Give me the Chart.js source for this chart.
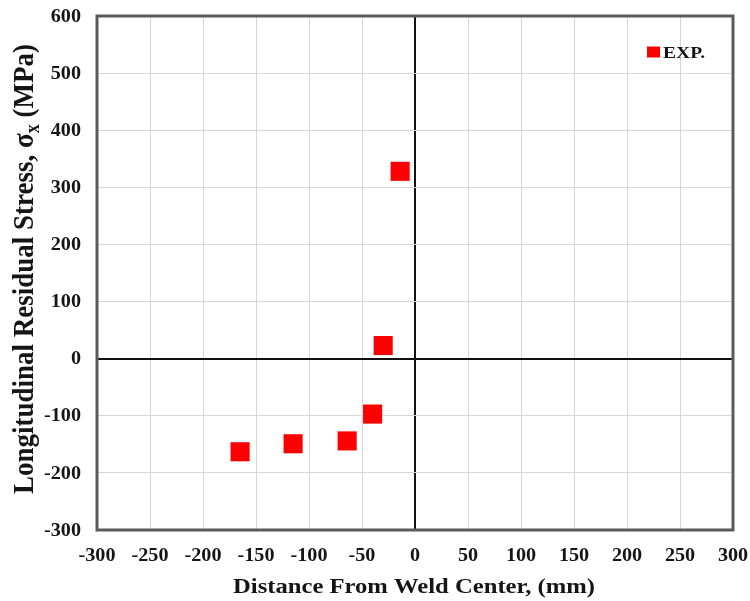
<!DOCTYPE html>
<html>
<head>
<meta charset="utf-8">
<script src="https://cdn.jsdelivr.net/npm/chart.js@4.4.1/dist/chart.umd.min.js"></script>
<style>
  html, body { margin: 0; padding: 0; background: #ffffff; }
  #wrap { width: 750px; height: 601px; }
</style>
</head>
<body>
<div id="wrap"><canvas id="chart" width="750" height="601"></canvas></div>
<script>
// Measured longitudinal residual stress across the weld
const distanceMm = [-165, -115, -64, -40, -30, -14];
const stressMPa = [-163, -149, -144, -97, 23, 328];
const seriesLabel = 'EXP.';

const xTicks = [-300, -250, -200, -150, -100, -50, 0, 50, 100, 150, 200, 250, 300];
const yTicks = [-300, -200, -100, 0, 100, 200, 300, 400, 500, 600];
const xTitle = 'Distance From Weld Center, (mm)';
const yTitleParts = ['Longitudinal Residual Stress, \u03C3', 'x', ' (MPa)'];

const SERIF = '"Liberation Serif", "Times New Roman", serif';
const font = (size) => `bold ${size}px ${SERIF}`;
const TEXT = '#151515';

// text with a slight horizontal widening
function wideText(ctx, text, x, y, align, baseline, size, sx) {
  ctx.save();
  ctx.translate(x, y);
  ctx.scale(sx, 1);
  ctx.font = font(size);
  ctx.fillStyle = TEXT;
  ctx.textAlign = align;
  ctx.textBaseline = baseline;
  ctx.fillText(text, 0, 0);
  ctx.restore();
}

const decorations = {
  id: 'decorations',
  afterDraw(chart) {
    const { ctx, chartArea: a, scales } = chart;
    const xs = scales.x, ys = scales.y;

    // plot frame
    ctx.save();
    ctx.strokeStyle = '#5a5a5a';
    ctx.lineWidth = 3;
    ctx.strokeRect(a.left, a.top, a.right - a.left, a.bottom - a.top);
    ctx.restore();

    // tick labels
    xTicks.forEach(v => wideText(ctx, String(v), xs.getPixelForValue(v), 561, 'center', 'alphabetic', 18, 1.12));
    yTicks.forEach(v => wideText(ctx, String(v), 81, ys.getPixelForValue(v) + 1, 'right', 'middle', 18, 1.12));

    // x axis title
    wideText(ctx, xTitle, (a.left + a.right) / 2 - 1, 593, 'center', 'alphabetic', 22, 1.12);

    // y axis title with subscript
    ctx.save();
    ctx.translate(33, 269);
    ctx.scale(1.12, 1);
    ctx.rotate(-Math.PI / 2);
    ctx.fillStyle = TEXT;
    ctx.textBaseline = 'alphabetic';
    const big = 27, small = 18;
    ctx.font = font(big);
    const w0 = ctx.measureText(yTitleParts[0]).width;
    const w2 = ctx.measureText(yTitleParts[2]).width;
    ctx.font = font(small);
    const w1 = ctx.measureText(yTitleParts[1]).width;
    let x = -(w0 + w1 + w2) / 2;
    ctx.textAlign = 'left';
    ctx.font = font(big);
    ctx.fillText(yTitleParts[0], x, 0);
    x += w0;
    ctx.font = font(small);
    ctx.fillText(yTitleParts[1], x, 5);
    x += w1;
    ctx.font = font(big);
    ctx.fillText(yTitleParts[2], x, 0);
    ctx.restore();

    // legend
    const ds = chart.data.datasets[0];
    ctx.save();
    ctx.fillStyle = ds.backgroundColor;
    ctx.fillRect(a.right - 86, 46.5, 13, 11);
    ctx.restore();
    wideText(ctx, ds.label, a.right - 70, 58, 'left', 'alphabetic', 17, 1.15);
  }
};

new Chart(document.getElementById('chart'), {
  type: 'scatter',
  data: {
    datasets: [{
      label: seriesLabel,
      data: distanceMm.map((d, i) => ({ x: d, y: stressMPa[i] })),
      pointStyle: 'rect',
      pointRadius: 13.5,
      pointHoverRadius: 13.5,
      borderWidth: 0,
      backgroundColor: '#ff0000',
      borderColor: '#ff0000'
    }]
  },
  options: {
    responsive: false,
    animation: false,
    devicePixelRatio: 1,
    layout: { padding: { left: 0, right: 17, top: 16, bottom: 0 } },
    plugins: {
      legend: { display: false },
      tooltip: { enabled: false }
    },
    scales: {
      x: {
        type: 'linear',
        min: -300,
        max: 300,
        afterFit: s => { s.height = 71; },
        afterBuildTicks: s => { s.ticks = xTicks.map(v => ({ value: v })); },
        ticks: { display: false },
        border: { display: false },
        grid: {
          drawTicks: false,
          color: c => c.tick && c.tick.value === 0 ? '#111111' : '#d6d6d6',
          lineWidth: c => c.tick && c.tick.value === 0 ? 2 : 1
        }
      },
      y: {
        type: 'linear',
        min: -300,
        max: 600,
        afterFit: s => { s.width = 97; },
        afterBuildTicks: s => { s.ticks = yTicks.map(v => ({ value: v })); },
        ticks: { display: false },
        border: { display: false },
        grid: {
          drawTicks: false,
          color: c => c.tick && c.tick.value === 0 ? '#111111' : '#d6d6d6',
          lineWidth: c => c.tick && c.tick.value === 0 ? 2 : 1
        }
      }
    }
  },
  plugins: [decorations]
});
</script>
</body>
</html>
